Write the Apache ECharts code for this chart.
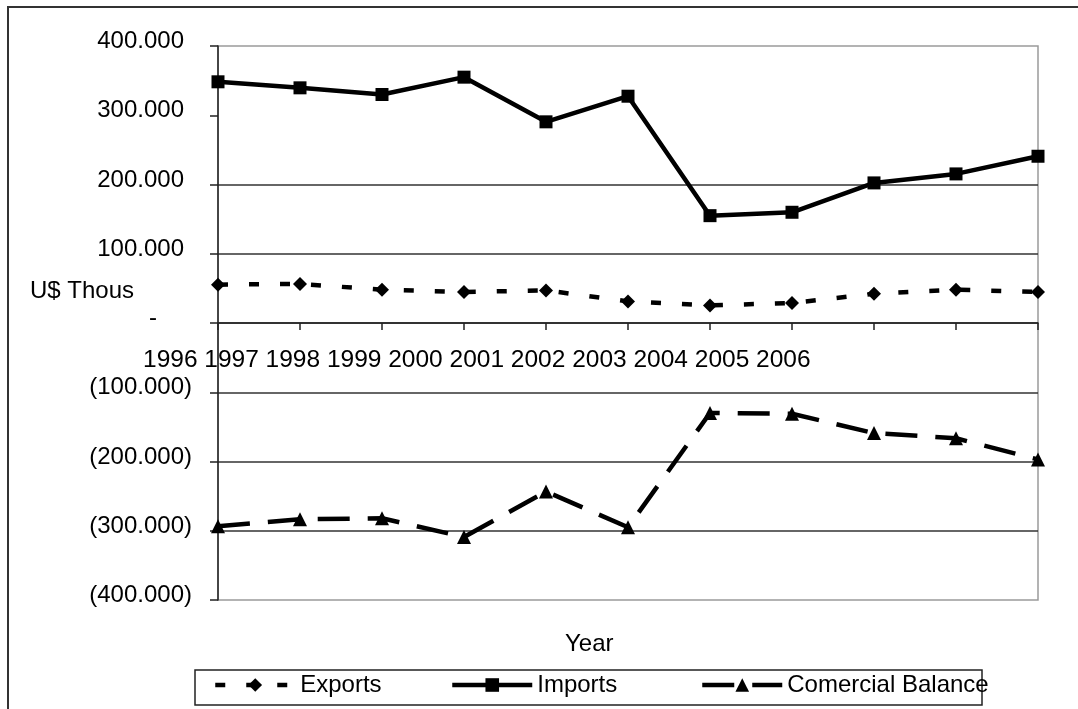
<!DOCTYPE html>
<html>
<head>
<meta charset="utf-8">
<script src="https://cdn.jsdelivr.net/npm/echarts@6/dist/echarts.min.js"></script>
<style>
  html, body { margin: 0; padding: 0; background: #fff; }
  #chart { width: 1078px; height: 709px; }
</style>
</head>
<body>
<div id="chart"></div>
<script>
// Trade figures, U$ thousands
const years = ['1996', '1997', '1998', '1999', '2000', '2001', '2002', '2003', '2004', '2005', '2006'];
const exportsK = [55400, 56400, 48100, 44800, 47100, 31200, 25400, 28900, 42300, 48100, 44800];
const importsK = [348300, 339600, 330000, 355000, 290500, 327500, 155000, 159900, 202300, 215300, 240800];
const balanceK = [-293500, -283500, -282000, -309000, -243300, -295000, -130000, -131000, -159000, -166500, -197000];

// Value axis ticks and their printed labels (accounting style)
const yMin = -400000, yMax = 400000, yStep = 100000;
const yTickLabels = ['(400.000)', '(300.000)', '(200.000)', '(100.000)', '-', '100.000', '200.000', '300.000', '400.000'];

const FONT = "'Liberation Sans', Arial, sans-serif";

function yLabel(v) {
  const s = yTickLabels[Math.round((v - yMin) / yStep)];
  if (s === undefined) return '';
  if (s.charAt(0) === '(') return '{n|' + s + '}';
  if (s === '-') return '{n|-}{z| }';
  return '{n|' + s + '}{p|)}';
}

const chart = echarts.init(document.getElementById('chart'), null, { renderer: 'canvas' });

const legendCommon = {
  top: 673,
  padding: 0,
  itemWidth: 80,
  itemHeight: 17,
  selectedMode: false,
  lineStyle: { width: 4.5 },
  textStyle: { fontFamily: FONT, fontSize: 24, color: '#000', lineHeight: 24 }
};

chart.setOption({
  animation: false,
  backgroundColor: '#fff',
  grid: {
    left: 218, right: 40, top: 46, height: 554,
    show: true, borderColor: '#9a9a9a', borderWidth: 1.5, backgroundColor: 'transparent'
  },
  xAxis: {
    type: 'category',
    data: years,
    boundaryGap: false,
    axisLine: { onZero: true, lineStyle: { color: '#222', width: 1.5 } },
    axisTick: { show: true, length: 7, lineStyle: { color: '#222', width: 1.5 } },
    axisLabel: { show: false },
    splitLine: { show: false }
  },
  yAxis: {
    type: 'value',
    min: yMin, max: yMax, interval: yStep,
    axisLine: { show: true, lineStyle: { color: '#222', width: 1.5 } },
    axisTick: { show: true, length: 8, lineStyle: { color: '#222', width: 1.5 } },
    axisLabel: {
      margin: 26,
      padding: [0, 0, 9, 0],
      formatter: yLabel,
      color: '#000',
      fontFamily: FONT,
      fontSize: 24,
      rich: {
        n: { fontFamily: FONT, fontSize: 24, color: '#000' },
        p: { fontFamily: FONT, fontSize: 24, color: 'transparent' },
        z: { fontFamily: FONT, fontSize: 24, width: 35 }
      }
    },
    splitLine: {
      show: true,
      lineStyle: {
        width: 1.5,
        color: ['transparent', '#333', '#333', '#333', '#333', '#333', '#333', 'transparent', 'transparent']
      }
    }
  },
  legend: [
    Object.assign({ data: ['Exports'], left: 213 }, legendCommon),
    Object.assign({ data: ['Imports'], left: 450 }, legendCommon),
    Object.assign({ data: ['Comercial Balance'], left: 700 }, legendCommon)
  ],
  series: [
    {
      name: 'Exports', type: 'line', data: exportsK,
      symbol: 'diamond', symbolSize: 14,
      itemStyle: { color: '#000' },
      lineStyle: { color: '#000', width: 4.5, type: [10, 21], cap: 'butt' }
    },
    {
      name: 'Imports', type: 'line', data: importsK,
      symbol: 'rect', symbolSize: 13,
      itemStyle: { color: '#000' },
      lineStyle: { color: '#000', width: 4.5 }
    },
    {
      name: 'Comercial Balance', type: 'line', data: balanceK,
      symbol: 'triangle', symbolSize: 14,
      itemStyle: { color: '#000' },
      lineStyle: { color: '#000', width: 4.5, type: [32, 18], cap: 'butt' }
    }
  ],
  graphic: [
    { type: 'rect', silent: true, shape: { x: 8, y: 7, width: 1200, height: 800 },
      style: { fill: 'none', stroke: '#333', lineWidth: 2 } },
    { type: 'rect', silent: true, shape: { x: 195, y: 670, width: 787, height: 35 },
      style: { fill: 'none', stroke: '#222', lineWidth: 1.5 } },
    { type: 'text', silent: true, x: 30, y: 291,
      style: { text: 'U$ Thous', font: '24px ' + FONT, fill: '#000', verticalAlign: 'middle', align: 'left' } },
    { type: 'text', silent: true, x: 143, y: 360,
      style: { text: years.join(' '), font: '24.5px ' + FONT, fill: '#000', verticalAlign: 'middle', align: 'left' } },
    { type: 'text', silent: true, x: 565, y: 644,
      style: { text: 'Year', font: '24px ' + FONT, fill: '#000', verticalAlign: 'middle', align: 'left' } }
  ]
});
</script>
</body>
</html>
